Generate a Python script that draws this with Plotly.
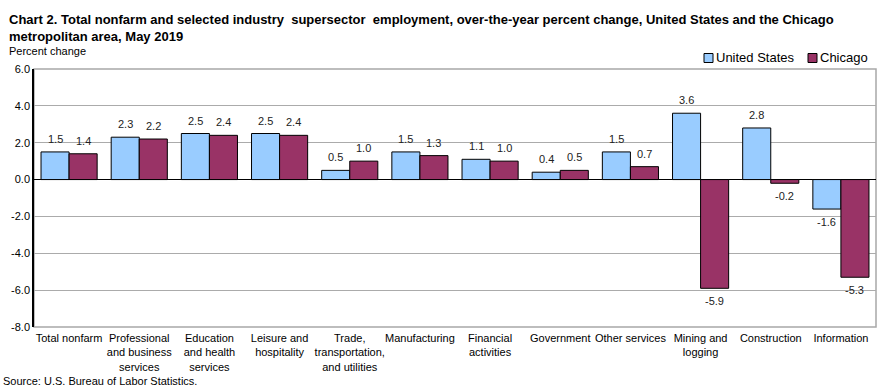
import plotly.graph_objects as go

categories = ["Total nonfarm", "Professional<br>and business<br>services", "Education<br>and health<br>services",
              "Leisure and<br>hospitality", "Trade,<br>transportation,<br>and utilities", "Manufacturing",
              "Financial<br>activities", "Government", "Other services", "Mining and<br>logging",
              "Construction", "Information"]
us_values = [1.5, 2.3, 2.5, 2.5, 0.5, 1.5, 1.1, 0.4, 1.5, 3.6, 2.8, -1.6]
chicago_values = [1.4, 2.2, 2.4, 2.4, 1.0, 1.3, 1.0, 0.5, 0.7, -5.9, -0.2, -5.3]
tick_vals = [-8, -6, -4, -2, 0, 2, 4, 6]
tick_text = ["-8.0", "-6.0", "-4.0", "-2.0", "0.0", "2.0", "4.0", "6.0"]

FONT = "Liberation Sans, Arial, sans-serif"
US_COLOR = "#99CCFF"
CHI_COLOR = "#993366"

W, H = 889, 392
ML, MR, MT, MB = 34, 13, 69, 65
BARGAP = 0.2
plot_w = W - ML - MR
plot_h = H - MT - MB

def fmt(v):
    return f"{v:.1f}"

def px_x(p):
    return (p - ML) / plot_w

def px_y(p):
    return 1 + (MT - p) / plot_h

fig = go.Figure()
fig.add_trace(go.Bar(name="United States", x=categories, y=us_values,
                     marker=dict(color=US_COLOR, line=dict(color="black", width=1)),
                     showlegend=False))
fig.add_trace(go.Bar(name="Chicago", x=categories, y=chicago_values,
                     marker=dict(color=CHI_COLOR, line=dict(color="black", width=1)),
                     showlegend=False))

# value labels, positioned from the data through the axes
cat_w = plot_w / len(categories)
bar_w = cat_w * (1 - BARGAP) / 2
for vals, sign in ((us_values, -1), (chicago_values, 1)):
    for c, v in zip(categories, vals):
        fig.add_annotation(x=c, y=v, text=fmt(v), showarrow=False,
                           xshift=sign * bar_w / 2, yshift=13 if v >= 0 else -13,
                           yanchor="middle", font=dict(size=11, color="#222222"))

fig.update_layout(
    width=W, height=H,
    margin=dict(l=ML, r=MR, t=MT, b=MB),
    paper_bgcolor="white", plot_bgcolor="white",
    font=dict(family=FONT, size=11, color="black"),
    barmode="group", bargap=BARGAP, bargroupgap=0,
    showlegend=False,
)
fig.update_xaxes(showgrid=False, ticks="", showline=False, tickfont=dict(size=11), tickangle=0,
                 automargin=False, ticklabelstandoff=3)
fig.update_yaxes(range=[-8, 6], tickvals=tick_vals, ticktext=tick_text, showgrid=True,
                 gridcolor="#ABABAB", gridwidth=1, zeroline=True, zerolinecolor="black",
                 zerolinewidth=1, showline=True, linecolor="black", linewidth=1.5,
                 ticks="", tickfont=dict(size=11), automargin=False)

fig.add_shape(type="rect", xref="paper", yref="paper", x0=0, x1=1, y0=0, y1=1,
              line=dict(color="#A8A8A8", width=1.5), layer="below")

# title
fig.add_annotation(text="<b>Chart 2. Total nonfarm and selected industry  supersector  employment, over-the-year percent change, United States and the Chicago<br>metropolitan area, May 2019</b>",
                   xref="paper", yref="paper", x=px_x(7), y=px_y(10), xanchor="left", yanchor="top",
                   align="left", showarrow=False, font=dict(size=13, color="black"))
fig.add_annotation(text="Percent change", xref="paper", yref="paper", x=px_x(7), y=px_y(51),
                   xanchor="left", yanchor="middle", showarrow=False, font=dict(size=11))
fig.add_annotation(text="Source: U.S. Bureau of Labor Statistics.", xref="paper", yref="paper",
                   x=px_x(1), y=px_y(381), xanchor="left", yanchor="middle", showarrow=False,
                   font=dict(size=11))

# legend
for name, color, sx in (("United States", US_COLOR, 704), ("Chicago", CHI_COLOR, 808)):
    fig.add_shape(type="rect", xref="paper", yref="paper", x0=px_x(sx), x1=px_x(sx + 9),
                  y0=px_y(62.5), y1=px_y(53.5), fillcolor=color, line=dict(color="black", width=1))
    fig.add_annotation(text=name, xref="paper", yref="paper", x=px_x(sx + 10), y=px_y(58),
                       xanchor="left", yanchor="middle", showarrow=False,
                       font=dict(size=13, color="black"))

fig.write_html("out.html", config={"displayModeBar": False},
               post_script="document.body.style.margin='0';document.body.style.overflow='hidden';")
